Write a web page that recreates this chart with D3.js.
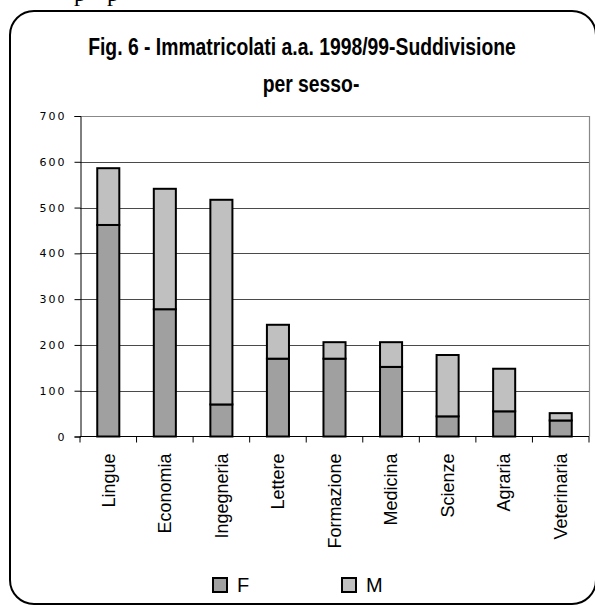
<!DOCTYPE html>
<html><head><meta charset="utf-8">
<script src="https://cdn.jsdelivr.net/npm/d3@7"></script>
<style>body{margin:0;background:#fff}svg{display:block}</style>
</head><body>
<svg id="c" width="595" height="605"></svg>
<script>
const categories = ["Lingue","Economia","Ingegneria","Lettere","Formazione","Medicina","Scienze","Agraria","Veterinaria"];
const femmine = [462, 278, 70, 170, 170, 152, 44, 55, 35];
const maschi  = [124, 263, 447, 74, 36, 54, 134, 93, 16];
const seriesNames = ["F", "M"];
const yTicks = [0, 100, 200, 300, 400, 500, 600, 700];
const titleLines = ["Fig. 6 - Immatricolati a.a. 1998/99-Suddivisione", "per sesso-"];

const colors = {F: "#a0a0a0", M: "#c0c0c0"};
const svg = d3.select("#c");
const narrow = "'Liberation Sans Narrow','Arial Narrow','Liberation Sans',Arial,sans-serif";

// page fragment above frame
svg.append("text").attr("x", 74).attr("y", 1).attr("font-family", "'Liberation Serif',serif")
  .attr("font-size", 24).text("p");
svg.append("text").attr("x", 107).attr("y", 1).attr("font-family", "'Liberation Serif',serif")
  .attr("font-size", 24).text("p");

// frame
svg.append("rect").attr("x", 10).attr("y", 11).attr("width", 586).attr("height", 593)
  .attr("rx", 24).attr("fill", "none").attr("stroke", "#000").attr("stroke-width", 2);

// title
const tl = svg.append("g");
const t1 = tl.append("text").attr("x", 302).attr("y", 55).attr("text-anchor", "middle")
  .attr("font-family", narrow).attr("font-weight", "bold").attr("font-size", 24).text(titleLines[0]);
const nat = t1.node().getComputedTextLength();
const ratio = 428 / nat;
t1.attr("transform", `translate(302,0) scale(${ratio},1) translate(-302,0)`);
tl.append("text").attr("x", 311).attr("y", 92).attr("text-anchor", "middle")
  .attr("font-family", narrow).attr("font-weight", "bold").attr("font-size", 24)
  .attr("transform", `translate(311,0) scale(${ratio},1) translate(-311,0)`).text(titleLines[1]);

const pLeft = 80, pRight = 589, pTop = 116, pBottom = 436.5;
const x = d3.scaleBand().domain(categories).range([pLeft, pRight]).paddingInner(0.61).paddingOuter(0.305);
const y = d3.scaleLinear().domain([0, 700]).range([pBottom, pTop]);

// gridlines
svg.append("g").selectAll("line").data(yTicks.filter(d => d > 0 && d < 700)).join("line")
  .attr("x1", pLeft).attr("x2", pRight).attr("y1", d => Math.round(y(d)) + 0.5).attr("y2", d => Math.round(y(d)) + 0.5)
  .attr("stroke", "#4a4a4a").attr("stroke-width", 1);
// top & right border
svg.append("path").attr("d", `M${pLeft},${pTop + 0.5}H${pRight + 0.5}V${pBottom}`)
  .attr("fill", "none").attr("stroke", "#888").attr("stroke-width", 1.2);

// stacked bars
const rows = categories.map((c, i) => ({cat: c, F: femmine[i], M: maschi[i]}));
const stack = d3.stack().keys(seriesNames)(rows);
const bw = x.bandwidth();
svg.append("g").selectAll("g").data(stack).join("g")
  .attr("fill", d => colors[d.key])
  .selectAll("rect").data(d => d).join("rect")
  .attr("x", d => x(d.data.cat)).attr("width", bw)
  .attr("y", d => y(d[1])).attr("height", d => y(d[0]) - y(d[1]))
  .attr("stroke", "#000").attr("stroke-width", 2);

// y axis
const yAxis = d3.axisLeft(y).tickValues(yTicks).tickSize(6).tickPadding(10).tickFormat(d3.format("d"));
const ya = svg.append("g").attr("transform", `translate(${pLeft + 0.5},0)`).call(yAxis);
ya.select(".domain").attr("stroke", "#000");
ya.selectAll(".tick line").attr("stroke", "#000");
ya.selectAll("text").attr("font-family", "'DejaVu Sans',sans-serif").attr("font-size", 11)
  .attr("letter-spacing", "2px").attr("fill", "#000").attr("x", -14);

// x axis
const xa = svg.append("g").attr("transform", `translate(0,${pBottom})`);
xa.append("line").attr("x1", pLeft).attr("x2", pRight).attr("stroke", "#000");
const bounds = categories.map(c => x(c) - x.step() * x.paddingInner() / 2).concat([pRight]);
xa.selectAll("line.tk").data(bounds).join("line").attr("class", "tk")
  .attr("x1", d => d).attr("x2", d => d).attr("y1", 0).attr("y2", 6).attr("stroke", "#000");
xa.selectAll("text").data(categories).join("text")
  .attr("transform", d => `translate(${x(d) + bw / 2},17) rotate(-90)`)
  .attr("text-anchor", "end").attr("dy", "0.35em")
  .attr("font-family", "'Liberation Sans',Arial,sans-serif").attr("font-size", 18)
  .text(d => d);

// legend
const legX = {F: 213, M: 342};
const lg = svg.append("g").selectAll("g").data(seriesNames).join("g")
  .attr("transform", d => `translate(${legX[d]},578)`);
lg.append("rect").attr("width", 14).attr("height", 14).attr("fill", d => colors[d])
  .attr("stroke", "#000").attr("stroke-width", 2);
lg.append("text").attr("x", 24).attr("y", 14).attr("font-family", narrow)
  .attr("font-size", 20).text(d => d);
</script>
</body></html>
